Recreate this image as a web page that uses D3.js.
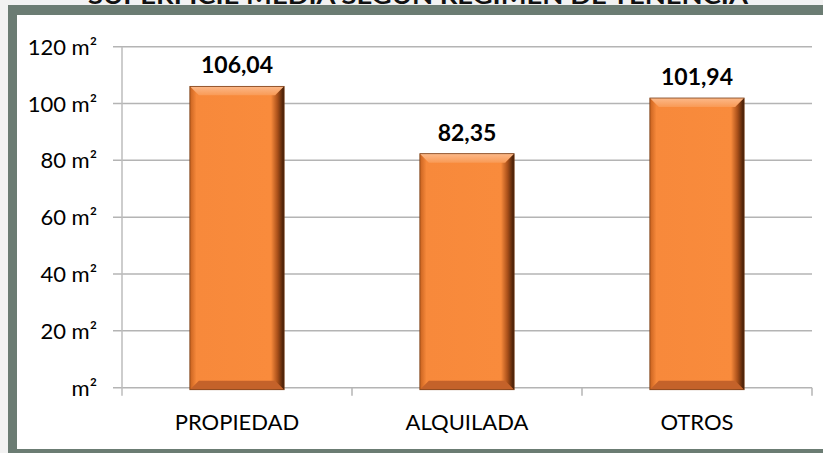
<!DOCTYPE html>
<html>
<head>
<meta charset="utf-8">
<script src="https://cdn.jsdelivr.net/npm/d3@7"></script>
<style>
  html, body { margin: 0; padding: 0; background: #f2f2f2; overflow: hidden; }
  svg { display: block; font-family: Lato, "Open Sans", sans-serif; }
</style>
</head>
<body>
<script>
// chart data
var categories = ["PROPIEDAD", "ALQUILADA", "OTROS"];
var values = [106.04, 82.35, 101.94];
var valueLabels = ["106,04", "82,35", "101,94"];
var yTicks = [0, 20, 40, 60, 80, 100, 120];
var yTickLabels = ["m²", "20 m²", "40 m²", "60 m²", "80 m²", "100 m²", "120 m²"];
var title = "SUPERFICIE MEDIA SEGÚN RÉGIMEN DE TENENCIA";

var W = 823, H = 453;
var margin = {top: 46.7, right: 11, bottom: 65.3, left: 122},
    width = W - margin.left - margin.right,
    height = H - margin.top - margin.bottom;

var svg = d3.select("body").append("svg")
    .attr("width", W)
    .attr("height", H);

// page background and frame
svg.append("rect").attr("width", W).attr("height", H).attr("fill", "#f2f2f2");
svg.append("rect").attr("x", 8).attr("y", 5).attr("width", W).attr("height", H)
    .attr("fill", "#6b7c73");
svg.append("rect").attr("x", 17).attr("y", 15).attr("width", W).attr("height", 449 - 15)
    .attr("fill", "#ffffff");

// title, mostly cut off at the top
svg.append("text")
    .attr("x", 418).attr("y", 4)
    .attr("text-anchor", "middle")
    .attr("font-weight", "bold")
    .attr("font-size", 22)
    .attr("textLength", 660)
    .attr("lengthAdjust", "spacingAndGlyphs")
    .attr("fill", "#111")
    .text(title);

// gradients
var defs = svg.append("defs");
var grad = defs.append("linearGradient").attr("id", "barGrad")
    .attr("x1", "0%").attr("x2", "100%").attr("y1", "0%").attr("y2", "0%");
[["0%", "#c9621f"], ["7%", "#f7893b"], ["86%", "#f98b3c"], ["93%", "#a9501a"], ["100%", "#3a1905"]]
  .forEach(function(s){ grad.append("stop").attr("offset", s[0]).attr("stop-color", s[1]); });
var topGrad = defs.append("linearGradient").attr("id", "topGrad")
    .attr("x1", "0%").attr("x2", "0%").attr("y1", "0%").attr("y2", "100%");
[["0%", "#fcb98a"], ["100%", "#f99a55"]]
  .forEach(function(s){ topGrad.append("stop").attr("offset", s[0]).attr("stop-color", s[1]); });

var g = svg.append("g")
    .attr("transform", "translate(" + margin.left + "," + margin.top + ")");

var x = d3.scaleBand().domain(categories).range([0, width]).paddingInner(0.59).paddingOuter(0.295);
var y = d3.scaleLinear().domain([0, 120]).range([height, 0]);

// gridlines
g.append("g").attr("class", "grid")
  .selectAll("line").data(yTicks).enter().append("line")
    .attr("x1", -9).attr("x2", width)
    .attr("y1", function(d){ return y(d); })
    .attr("y2", function(d){ return y(d); })
    .attr("stroke", "#b4b4b4").attr("stroke-width", 1.5);

// y axis line
g.append("line").attr("x1", 0).attr("x2", 0).attr("y1", 0).attr("y2", height + 8)
    .attr("stroke", "#bcbcbc").attr("stroke-width", 1.5);

// x category ticks
var xStep = width / categories.length;
g.append("g").selectAll("line").data(d3.range(1, categories.length + 1)).enter().append("line")
    .attr("x1", function(d){ return d * xStep; })
    .attr("x2", function(d){ return d * xStep; })
    .attr("y1", height).attr("y2", height + 8)
    .attr("stroke", "#b4b4b4").attr("stroke-width", 1.5);

// y labels
g.append("g").selectAll("text").data(yTicks).enter().append("text")
    .attr("x", -25)
    .attr("y", function(d){ return y(d) + 8; })
    .attr("text-anchor", "end")
    .attr("font-size", 22)
    .attr("fill", "#000")
    .text(function(d, i){ return yTickLabels[i]; });

// x labels
g.append("g").selectAll("text").data(categories).enter().append("text")
    .attr("x", function(d){ return x(d) + x.bandwidth() / 2; })
    .attr("y", height + 42)
    .attr("text-anchor", "middle")
    .attr("font-size", 22)
    .attr("fill", "#000")
    .text(function(d){ return d; });

// bars
var bv = 9;
var bars = g.append("g").selectAll("g").data(values).enter().append("g")
    .attr("transform", function(d, i){ return "translate(" + x(categories[i]) + "," + y(d) + ")"; });

bars.append("rect")
    .attr("width", x.bandwidth())
    .attr("height", function(d){ return height - y(d) + 2; })
    .attr("fill", "url(#barGrad)");

// top bevel
bars.append("path")
    .attr("d", function(d){
      var w = x.bandwidth();
      return "M0,0L" + w + ",0L" + (w - bv) + "," + bv + "L" + bv + "," + bv + "Z";
    })
    .attr("fill", "url(#topGrad)");
// bottom bevel
bars.append("path")
    .attr("d", function(d){
      var w = x.bandwidth(), h = height - y(d) + 2;
      return "M0," + h + "L" + w + "," + h + "L" + (w - bv) + "," + (h - bv) + "L" + bv + "," + (h - bv) + "Z";
    })
    .attr("fill", "#c4622a");
bars.append("rect")
    .attr("width", x.bandwidth())
    .attr("height", function(d){ return height - y(d) + 2; })
    .attr("fill", "none")
    .attr("stroke", "#7a3e16").attr("stroke-width", 0.8);

// value labels
g.append("g").selectAll("text").data(values).enter().append("text")
    .attr("x", function(d, i){ return x(categories[i]) + x.bandwidth() / 2; })
    .attr("y", function(d){ return y(d) - 13; })
    .attr("text-anchor", "middle")
    .attr("font-weight", "bold")
    .attr("font-size", 23)
    .attr("fill", "#000")
    .text(function(d, i){ return valueLabels[i]; });
</script>
</body>
</html>
